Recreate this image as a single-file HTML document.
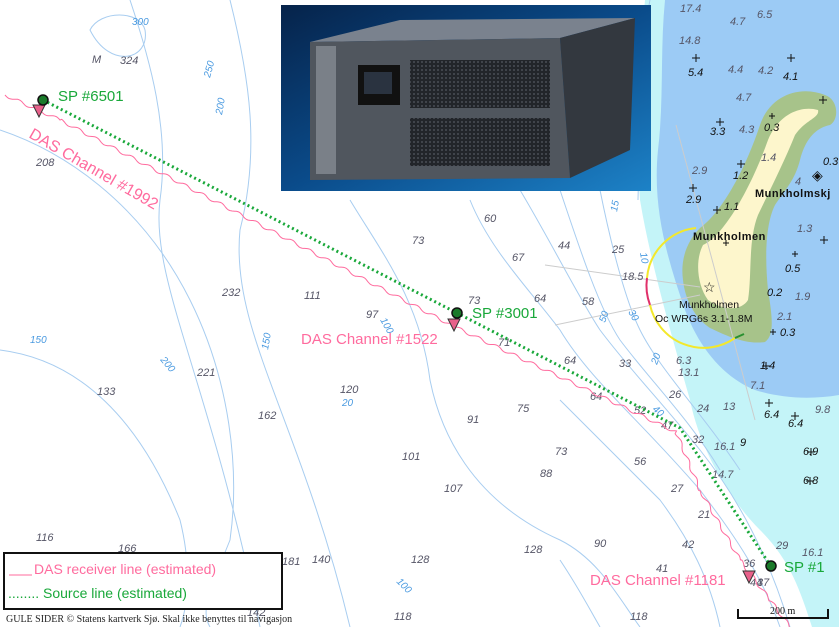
<!DOCTYPE html>
<html><head><style>
body{margin:0;width:839px;height:627px;overflow:hidden;background:#fff;font-family:"Liberation Sans",sans-serif}
</style></head><body>
<svg id="s" width="839" height="627" xmlns="http://www.w3.org/2000/svg" style="position:absolute;left:0;top:0">
<rect width="839" height="627" fill="#fff"/>
<path d="M645,0 L839,0 L839,627 L812,627 C800,590 790,560 760,530 C730,500 700,450 690,400 C670,330 650,260 640,200 C635,120 640,60 645,0 Z" fill="#c4f4f8"/>
<path d="M665,0 L839,0 L839,395 C810,400 780,398 755,390 C725,378 700,350 685,310 C668,260 652,210 658,150 C664,100 660,50 665,0 Z" fill="#9ccbf5"/>
<path d="M700,228 C722,212 745,170 760,125 C770,95 800,85 825,95 C839,100 839,120 830,125 C815,128 805,140 800,160 C795,180 785,190 775,205 C765,225 765,260 768,290 C772,315 775,335 765,342 C745,345 725,335 710,328 C695,318 685,300 683,280 C680,258 688,240 700,228 Z" fill="#a7c38a"/>
<path d="M703,245 C725,235 752,185 768,140 C778,115 800,105 818,110 C820,118 805,120 795,135 C785,160 770,190 758,215 C748,240 752,275 748,300 C742,310 725,312 708,300 C697,285 695,260 703,245 Z" fill="#fdf6cc"/>
<g fill="none" stroke="#a8cdf0" stroke-width="1">
<path d="M130,0 C150,60 170,130 160,200 C150,280 210,380 260,627"/>
<path d="M230,0 C250,80 260,150 240,230 C230,330 300,420 350,627"/>
<path d="M0,130 C60,150 140,200 190,300 C230,380 240,470 230,540 C210,590 200,610 210,627"/>
<path d="M0,350 C80,360 140,420 180,520 C190,560 190,600 180,627"/>
<path d="M350,200 C380,250 420,300 430,380 C440,430 470,500 560,540 C600,560 620,600 640,627"/>
<path d="M470,200 C490,250 530,290 560,330 C590,380 640,420 700,490 C730,530 760,570 780,627"/>
<path d="M520,190 C550,240 580,300 600,330 C630,370 660,400 700,450 C740,500 770,560 790,627"/>
<path d="M560,190 C580,250 600,310 620,340 C650,380 690,420 720,470"/>
<path d="M600,190 C610,240 625,300 640,330 C660,370 700,410 740,470"/>
<path d="M560,400 C600,440 630,470 660,500 C690,540 710,580 720,627"/>
<path d="M560,560 C580,590 590,610 600,627"/>
<path d="M90,30 C100,10 140,10 145,30 C150,60 110,70 90,30 Z"/>
<path d="M650,0 C640,50 640,120 638,200"/>
</g>
<g fill="none" stroke="#cccccc" stroke-width="1">
<line x1="545" y1="265" x2="700" y2="287"/>
<line x1="555" y1="325" x2="700" y2="295"/>
<line x1="676" y1="125" x2="755" y2="420"/>
</g>
<path d="M696,228 A55,55 0 0 0 647,278" fill="none" stroke="#f3e82c" stroke-width="2"/>
<path d="M647,278 A55,55 0 0 0 650,305" fill="none" stroke="#e0306a" stroke-width="2"/>
<path d="M650,305 A55,55 0 0 0 735,338" fill="none" stroke="#f3e82c" stroke-width="2"/>
<path d="M735,338 L744,334" stroke="#2a9030" stroke-width="2"/>
<g font-family="Liberation Sans" font-style="italic" font-size="11" fill="#555566">
<text x="92" y="63">M</text><text x="120" y="64">324</text><text x="36" y="166">208</text>
<text x="222" y="296">232</text><text x="304" y="299">111</text><text x="366" y="318">97</text>
<text x="412" y="244">73</text><text x="484" y="222">60</text><text x="512" y="261">67</text>
<text x="558" y="249">44</text><text x="612" y="253">25</text><text x="622" y="280">18.5</text>
<text x="582" y="305">58</text><text x="534" y="302">64</text><text x="468" y="304">73</text>
<text x="498" y="346">71</text><text x="564" y="364">64</text><text x="619" y="367">33</text>
<text x="676" y="364">6.3</text>
<text x="678" y="376">13.1</text><text x="669" y="398">26</text><text x="697" y="412">24</text><text x="723" y="410">13</text>
<text x="590" y="400">64</text><text x="634" y="414">52</text><text x="517" y="412">75</text>
<text x="467" y="423">91</text><text x="555" y="455">73</text><text x="540" y="477">88</text>
<text x="634" y="465">56</text><text x="661" y="429">47</text><text x="692" y="443">32</text>
<text x="714" y="450">16.1</text><text x="712" y="478">14.7</text><text x="671" y="492">27</text>
<text x="698" y="518">21</text><text x="682" y="548">42</text><text x="656" y="572">41</text>
<text x="743" y="567">36</text><text x="750" y="586">44</text>
<text x="776" y="549">29</text><text x="802" y="556">16.1</text><text x="757" y="586">37</text>
<text x="340" y="393">120</text><text x="258" y="419">162</text><text x="197" y="376">221</text>
<text x="97" y="395">133</text><text x="402" y="460">101</text><text x="444" y="492">107</text>
<text x="524" y="553">128</text><text x="594" y="547">90</text><text x="282" y="565">181</text>
<text x="312" y="563">140</text><text x="411" y="563">128</text><text x="36" y="541">116</text>
<text x="118" y="552">166</text><text x="195" y="563">140</text><text x="254" y="566">128</text>
<text x="247" y="616">142</text><text x="394" y="620">118</text><text x="630" y="620">118</text>
<text x="679" y="44">14.8</text><text x="680" y="12">17.4</text>
<text x="757" y="18">6.5</text>
<text x="758" y="74">4.2</text><text x="730" y="25">4.7</text><text x="728" y="73">4.4</text>
<text x="736" y="101">4.7</text><text x="739" y="133">4.3</text><text x="761" y="161">1.4</text>
<text x="692" y="174">2.9</text><text x="795" y="185">4</text><text x="797" y="232">1.3</text>
<text x="777" y="320">2.1</text><text x="795" y="300">1.9</text>
<text x="750" y="389">7.1</text><text x="815" y="413">9.8</text>
</g>
<g font-family="Liberation Sans" font-style="italic" font-size="11" fill="#111">
<text x="688" y="76">5.4</text><text x="783" y="80">4.1</text><text x="710" y="135">3.3</text>
<text x="764" y="131">0.3</text><text x="733" y="179">1.2</text><text x="686" y="203">2.9</text>
<text x="724" y="210">1.1</text><text x="785" y="272">0.5</text><text x="767" y="296">0.2</text>
<text x="780" y="336">0.3</text><text x="760" y="369">1.4</text><text x="764" y="418">6.4</text>
<text x="788" y="427">6.4</text><text x="740" y="446">9</text><text x="803" y="455">6.9</text>
<text x="803" y="484">6.8</text><text x="823" y="165">0.3</text>
</g>
<g font-family="Liberation Sans" font-size="10" fill="#4a9ae0" font-style="italic">
<text x="132" y="25">300</text><text x="210" y="78" transform="rotate(-75 210 78)">250</text>
<text x="222" y="115" transform="rotate(-80 222 115)">200</text>
<text x="30" y="343">150</text><text x="160" y="360" transform="rotate(50 160 360)">200</text>
<text x="268" y="350" transform="rotate(-80 268 350)">150</text>
<text x="380" y="320" transform="rotate(60 380 320)">100</text>
<text x="342" y="406">20</text><text x="605" y="323" transform="rotate(-70 605 323)">50</text>
<text x="617" y="212" transform="rotate(-80 617 212)">15</text>
<text x="640" y="253" transform="rotate(80 640 253)">10</text>
<text x="657" y="365" transform="rotate(-70 657 365)">20</text>
<text x="652" y="410" transform="rotate(40 652 410)">40</text>
<text x="628" y="312" transform="rotate(60 628 312)">30</text>
<text x="396" y="582" transform="rotate(45 396 582)">100</text>
</g>
<g stroke="#111" stroke-width="1">
<path d="M692,58h8M696,54v8 M787,58h8M791,54v8 M716,122h8M720,118v8 M737,164h8M741,160v8 M689,188h8M693,184v8 M713,210h8M717,206v8 M819,100h8M823,96v8 M820,240h8M824,236v8 M762,366h8M766,362v8 M765,403h8M769,399v8 M791,416h8M795,412v8 M807,452h8M811,448v8 M806,481h8M810,477v8 M723,243h6M726,240v6 M792,254h6M795,251v6 M769,116h6M772,113v6 M770,332h6M773,329v6"/>
</g>
<text x="755" y="197" font-size="11" font-weight="bold" fill="#111" letter-spacing="0.5">Munkholmskj</text>
<text x="693" y="240" font-size="11" font-weight="bold" fill="#111" letter-spacing="0.5">Munkholmen</text>
<text x="679" y="308" font-size="10.5" fill="#111">Munkholmen</text>
<text x="655" y="322" font-size="10.5" fill="#111">Oc WRG6s 3.1-1.8M</text>
<text x="703" y="292" font-size="14" fill="#111">☆</text>
<text x="812" y="180" font-size="14" fill="#111">◈</text>
<defs><linearGradient id="g" x1="0" y1="0" x2="1" y2="1"><stop offset="0" stop-color="#06234a"/><stop offset="0.5" stop-color="#0a4b8a"/><stop offset="1" stop-color="#1d82c7"/></linearGradient>
<pattern id="grill" width="4" height="4" patternUnits="userSpaceOnUse"><rect width="4" height="4" fill="#22252a"/><circle cx="2" cy="2" r="1" fill="#4a4e55"/></pattern></defs>
<rect x="281" y="5" width="370" height="186" fill="url(#g)"/>
<path d="M310,42 L560,38 L635,18 L400,20 Z" fill="#7a828e"/>
<path d="M310,42 L560,38 L570,178 L310,180 Z" fill="#50565e"/>
<path d="M560,38 L635,18 L630,150 L570,178 Z" fill="#33383f"/>
<rect x="316" y="46" width="20" height="128" fill="#7a8088"/>
<rect x="358" y="65" width="42" height="40" fill="#111"/>
<rect x="364" y="72" width="28" height="22" fill="#2a3340"/>
<rect x="410" y="60" width="140" height="48" fill="url(#grill)"/>
<rect x="410" y="118" width="140" height="48" fill="url(#grill)"/>
<path id="pink" d="M5,95 q5,-4 10,0 t10,2 t10,4 t10,5 L60,120 L455,327 L676,432 L700,490 L740,560 L770,600 L790,627" fill="none" stroke="#ff6b9e" stroke-width="1"/>
<path d="M43,100 L457,313 L680,428 L770,565" fill="none" stroke="#19a83a" stroke-width="3" stroke-dasharray="2,3"/>
<g fill="#e8608a" stroke="#333" stroke-width="1">
<path d="M33,105 L45,105 L39,117 Z"/><path d="M448,319 L460,319 L454,331 Z"/><path d="M743,571 L755,571 L749,583 Z"/>
</g>
<g fill="#1a7a2a" stroke="#111" stroke-width="1.5">
<circle cx="43" cy="100" r="5"/><circle cx="457" cy="313" r="5"/><circle cx="771" cy="566" r="5"/>
</g>
<g font-size="15" fill="#19a83a">
<text x="58" y="101">SP #6501</text><text x="472" y="318">SP #3001</text><text x="784" y="572">SP #1</text>
</g>
<g font-size="15" fill="#ff6b9e">
<text x="28" y="137" font-size="16" transform="rotate(30 28 137)">DAS Channel #1992</text>
<text x="301" y="344">DAS Channel #1522</text>
<text x="590" y="585">DAS Channel #1181</text>
</g>
<rect x="4" y="553" width="278" height="56" fill="#fff" stroke="#111" stroke-width="2"/>
<line x1="9" y1="575" x2="32" y2="575" stroke="#ff6b9e"/>
<text x="34" y="574" font-size="14" fill="#ff6b9e">DAS receiver line (estimated)</text>
<text x="8" y="598" font-size="14" fill="#19a83a">........ Source line (estimated)</text>
<text x="6" y="622" font-size="10" fill="#222" font-family="Liberation Serif">GULE SIDER © Statens kartverk Sjø. Skal ikke benyttes til navigasjon</text>
<path d="M738,609 V618 H828 V609" fill="none" stroke="#111" stroke-width="2"/>
<text x="770" y="614" font-size="10" font-family="Liberation Serif" fill="#111">200 m</text>
</svg>
<script>
(function(){
var pts=[[5,95],[60,120],[455,327],[676,432],[700,490],[740,560],[770,600],[790,627]];
var d="M5,95";
for(var i=0;i<pts.length-1;i++){
 var a=pts[i],b=pts[i+1],dx=b[0]-a[0],dy=b[1]-a[1],L=Math.hypot(dx,dy),nx=-dy/L,ny=dx/L;
 var n=Math.floor(L/1.2);
 for(var k=1;k<=n;k++){var t=k/n,s=(i*1000+t*L);var w=1.5*Math.sin(s/3.2);
  d+=" L"+(a[0]+dx*t+nx*w).toFixed(1)+","+(a[1]+dy*t+ny*w).toFixed(1);}
}
document.getElementById("pink").setAttribute("d",d);
})();
</script>
</body></html>
